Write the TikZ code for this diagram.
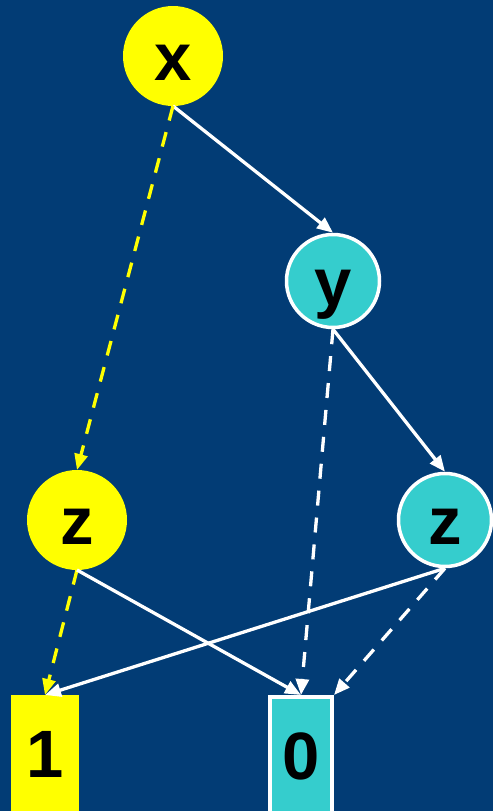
\documentclass[tikz,border=0pt]{standalone}
\usepackage{fontspec}
\setmainfont{Liberation Sans}
\usetikzlibrary{arrows.meta}
\definecolor{bg}{HTML}{023C75}
\definecolor{teal}{HTML}{35CDCD}
\definecolor{yel}{HTML}{FFFF00}
\begin{document}
\begin{tikzpicture}[x=1pt,y=-1pt,
  lbl/.style={font=\fontsize{67}{80}\bfseries\selectfont, text=black, inner sep=0pt, text height=48pt, text depth=0pt},
  ynode/.style={lbl, circle, fill=yel, minimum size=100pt, outer sep=0pt},
  tnode/.style={lbl, circle, fill=teal, draw=white, line width=3.5pt, minimum size=93pt},
  ybox/.style={lbl, rectangle, fill=yel, minimum width=68pt, minimum height=116pt, outer sep=0pt},
  tbox/.style={lbl, rectangle, fill=teal, draw=white, line width=4pt, minimum width=62pt, minimum height=116pt},
  edge/.style={line width=3.3pt, -{Triangle[length=16pt,width=13pt]}},
  wsolid/.style={edge, white},
  wdash/.style={edge, white, dash pattern=on 15pt off 12pt},
  ydash/.style={edge, yel, dash pattern=on 15pt off 12pt}]
\fill[bg] (0,0) rectangle (493,811);
\useasboundingbox (0,0) rectangle (493,811);
\node[ynode] (x) at (173,56) {x};
\node[tnode] (y) at (333,281) {y};
\node[ynode] (zl) at (77,520) {z};
\node[tnode] (zr) at (445,520) {z};
\node[ybox] (one) at (45,753) {1};
\node[tbox] (zero) at (301,755) {0};
\draw[wsolid] (x.south) -- (y.north);
\draw[ydash] (x.south) -- (zl.north);
\draw[wdash] (y.south) -- (zero.north);
\draw[wsolid] (y.south) -- (zr.north);
\draw[ydash] (zl.south) -- (one.north);
\draw[wsolid] (zl.south) -- (zero.north);
\draw[wsolid] (zr.south) -- (one.north);
\draw[wdash] (zr.south) -- (zero.north east);
\end{tikzpicture}
\end{document}
